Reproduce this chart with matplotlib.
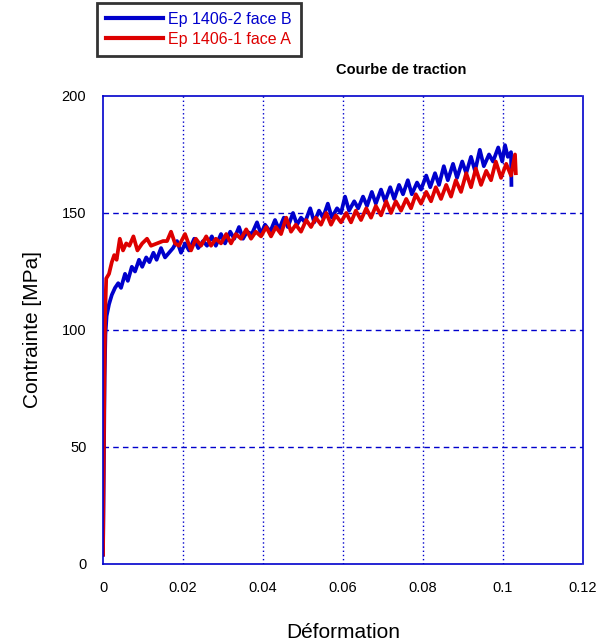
import numpy as np
import matplotlib
matplotlib.use('Agg')
import matplotlib.pyplot as plt

plt.rcParams['font.family'] = ['Liberation Sans', 'DejaVu Sans']

# Ep 1406-2 face B (blue)
xB = [0, 0.0002, 0.0004, 0.0006, 0.0009, 0.0015, 0.0022, 0.003, 0.0038, 0.0045,
      0.0055, 0.0062, 0.0072, 0.008, 0.009, 0.0098, 0.0108, 0.0116, 0.0126, 0.0134,
      0.0145, 0.0155, 0.0165, 0.0175, 0.0185, 0.0195, 0.0205, 0.0215, 0.0228, 0.0238,
      0.025, 0.026, 0.0272, 0.0282, 0.0295, 0.0305, 0.0318, 0.0328, 0.034, 0.035,
      0.036, 0.0372, 0.0385, 0.0395, 0.0405, 0.0418, 0.043, 0.044, 0.0452, 0.0462,
      0.0475, 0.0485, 0.0495, 0.0505, 0.0518, 0.0528, 0.054, 0.055, 0.0562, 0.0572,
      0.0585, 0.0595, 0.0605, 0.0615, 0.0628, 0.0638, 0.065, 0.066, 0.0672, 0.0682,
      0.0695, 0.0705, 0.0718, 0.0728, 0.074, 0.075, 0.0762, 0.0772, 0.0785, 0.0795,
      0.0808, 0.0818, 0.083, 0.084, 0.0852, 0.0862, 0.0875, 0.0885, 0.0898, 0.0908,
      0.092, 0.093, 0.0942, 0.0952, 0.0965, 0.0975, 0.0988, 0.0998, 0.1005, 0.1012,
      0.102, 0.1021]
yB = [4, 40, 80, 98, 106, 111, 115, 118, 120, 118,
      124, 121, 127, 125, 130, 127, 131, 129, 133, 130,
      135, 131, 133, 135, 138, 133, 137, 134, 139, 135,
      138, 136, 140, 136, 141, 137, 142, 139, 144, 139,
      142, 141, 146, 141, 145, 142, 147, 143, 148, 144,
      150, 145, 148, 146, 152, 146, 151, 148, 154, 148,
      152, 150, 157, 151, 155, 152, 157, 153, 159, 154,
      160, 155, 161, 156, 162, 158, 164, 158, 163, 160,
      166, 161, 167, 162, 170, 164, 171, 165, 172, 167,
      174, 168, 177, 170, 175, 172, 178, 172, 179, 174,
      176, 162]

# Ep 1406-1 face A (red)
xA = [0, 0.0001, 0.0003, 0.0005, 0.0008, 0.0015, 0.0022, 0.0028, 0.0034, 0.0042,
      0.005, 0.0058, 0.0066, 0.0076, 0.0086, 0.0098, 0.011, 0.012, 0.0135, 0.015,
      0.016, 0.017, 0.018, 0.019, 0.0205, 0.022, 0.0232, 0.0245, 0.0258, 0.027,
      0.0282, 0.0295, 0.0308, 0.032, 0.0332, 0.0345, 0.0358, 0.037, 0.0382, 0.0395,
      0.0408, 0.042, 0.0432, 0.0445, 0.0458, 0.047, 0.0482, 0.0495, 0.0508, 0.052,
      0.0532, 0.0545, 0.0558, 0.057, 0.0582, 0.0595, 0.0608, 0.062, 0.0632, 0.0645,
      0.0658, 0.067, 0.0682, 0.0695, 0.0708, 0.072, 0.0732, 0.0745, 0.0758, 0.077,
      0.0782, 0.0795, 0.0808, 0.082, 0.0832, 0.0845, 0.0858, 0.087, 0.0882, 0.0895,
      0.0908, 0.092, 0.0932, 0.0945, 0.0958, 0.097, 0.0982, 0.0995, 0.1008, 0.102,
      0.103, 0.1032]
yA = [4, 30, 70, 105, 122, 124, 129, 132, 130, 139,
      134, 137, 136, 140, 134, 137, 139, 136, 137, 138,
      138, 142, 137, 136, 141, 134, 139, 136, 140, 136,
      139, 137, 141, 137, 141, 139, 143, 139, 142, 140,
      144, 140, 144, 141, 148, 142, 145, 142, 147, 144,
      148, 145, 150, 145, 149, 146, 150, 146, 151, 147,
      152, 148, 153, 149, 155, 150, 155, 151, 156, 152,
      158, 154, 159, 155, 161, 156, 162, 157, 164, 159,
      167, 161, 169, 162, 168, 164, 172, 165, 171, 166,
      175, 167]

xticks = [0, 0.02, 0.04, 0.06, 0.08, 0.1, 0.12]
xticklabels = ['0', '0.02', '0.04', '0.06', '0.08', '0.1', '0.12']
yticks = [0, 50, 100, 150, 200]

blue = '#0000CC'
red = '#DD0000'

fig = plt.figure(figsize=(6, 6.42), dpi=100)
ax = fig.add_axes([0.1717, 0.1215, 0.8, 0.729])

ax.plot(xB, yB, color=blue, lw=2.7, label='Ep 1406-2 face B')
ax.plot(xA, yA, color=red, lw=2.7, label='Ep 1406-1 face A')

ax.set_xlim(0, 0.12)
ax.set_ylim(0, 200)
ax.set_xticks(xticks)
ax.set_xticklabels(xticklabels)
ax.set_yticks(yticks)
ax.tick_params(length=0, labelsize=10.5, pad=12)

for v in xticks[1:-1]:
    ax.axvline(v, color=blue, lw=1, ls=(0, (1, 2)), zorder=0)
for v in yticks[1:-1]:
    ax.axhline(v, color=blue, lw=1, ls=(0, (4, 3)), zorder=0)

for s in ax.spines.values():
    s.set_color(blue)
    s.set_linestyle((0, (1, 1)))
    s.set_linewidth(1.2)

ax.set_ylabel('Contrainte [MPa]', fontsize=15, labelpad=14)
fig.text(0.5717, 1 - 632 / 642, 'Déformation', fontsize=15, ha='center', va='center')

fig.text(0.668, 0.891, 'Courbe de traction', fontsize=10.5, fontweight='bold',
         ha='center', va='center')

leg = fig.legend(loc='upper left', bbox_to_anchor=(0.162, 0.995), fontsize=11.5,
                 labelcolor='linecolor', fancybox=False, handlelength=3.6,
                 borderpad=0.55, labelspacing=0.3, handletextpad=0.3,
                 borderaxespad=0)
leg.get_frame().set_edgecolor('black')
leg.get_frame().set_linewidth(2)
for line in leg.get_lines():
    line.set_linewidth(3)

fig.savefig('out.png', dpi=100)
